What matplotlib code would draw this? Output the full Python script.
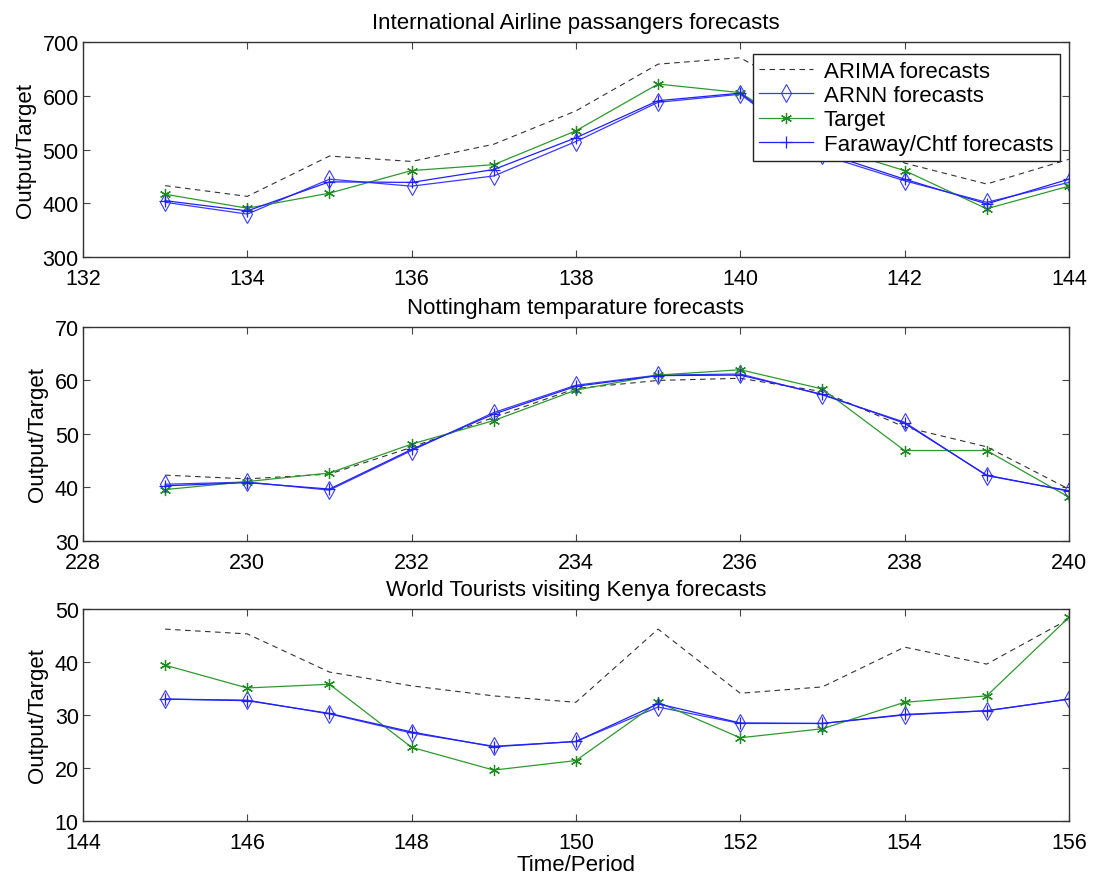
import numpy as np
import matplotlib
matplotlib.use("Agg")
import matplotlib.pyplot as plt

plt.rcParams['font.family'] = ['Liberation Sans', 'DejaVu Sans']

# Panel 1: International Airline passengers
t1 = list(range(133, 145))
arima1 = [433, 413, 488, 478, 510, 572, 659, 671, 585, 475, 436, 482]
arnn1 = [402, 380, 445, 432, 451, 515, 588, 603, 490, 442, 402, 439]
target1 = [417, 391, 419, 461, 472, 535, 622, 606, 508, 461, 390, 432]
faraway1 = [405, 386, 440, 439, 463, 522, 591, 605, 495, 445, 399, 445]

# Panel 2: Nottingham temperature
t2 = list(range(229, 241))
arima2 = [42.3, 41.6, 42.5, 47.5, 53.1, 58.5, 60.0, 60.4, 57.9, 51.3, 47.6, 39.7]
arnn2 = [40.6, 41.0, 39.5, 46.9, 54.0, 59.1, 61.0, 61.2, 57.3, 52.2, 42.2, 39.4]
target2 = [39.6, 41.1, 42.7, 48.1, 52.5, 58.2, 61.0, 62.0, 58.4, 46.9, 46.9, 38.2]
faraway2 = [40.3, 40.9, 39.7, 47.1, 53.7, 58.9, 60.9, 61.0, 57.4, 52.0, 42.3, 39.3]

# Panel 3: World Tourists visiting Kenya
t3 = list(range(145, 157))
arima3 = [46.2, 45.3, 38.1, 35.5, 33.6, 32.4, 46.2, 34.1, 35.3, 42.8, 39.6, 48.1]
arnn3 = [33.0, 32.8, 30.2, 26.6, 24.1, 25.0, 31.5, 28.4, 28.4, 30.0, 30.8, 33.0]
target3 = [39.4, 35.1, 35.8, 23.9, 19.6, 21.4, 32.4, 25.7, 27.4, 32.4, 33.6, 48.4]
faraway3 = [33.0, 32.7, 30.3, 26.8, 24.0, 25.0, 32.1, 28.5, 28.4, 30.1, 30.8, 33.0]

titles = ["International Airline passangers forecasts",
          "Nottingham temparature forecasts",
          "World Tourists visiting Kenya forecasts"]
xlims = [(132, 144), (228, 240), (144, 156)]
ylims = [(300, 700), (30, 70), (10, 50)]
ysteps = [100, 10, 10]

panels = [(t1, arima1, arnn1, target1, faraway1),
          (t2, arima2, arnn2, target2, faraway2),
          (t3, arima3, arnn3, target3, faraway3)]

fig = plt.figure(figsize=(10.93, 8.87), dpi=100)
rects = [[0.0759, 0.709, 0.902, 0.2424],
         [0.0759, 0.389, 0.902, 0.2413],
         [0.0759, 0.0733, 0.902, 0.239]]

asterisk = (6, 2, 0)
for i, (t, ar, nn, tg, fw) in enumerate(panels):
    ax = fig.add_axes(rects[i])
    ax.plot(t, ar, color='#333333', linestyle=(0, (5, 4)), linewidth=0.8, label='ARIMA forecasts')
    ax.plot(t, nn, color='#3a3aff', linewidth=0.9, marker='d', markersize=9,
            markerfacecolor='none', markeredgewidth=0.8, label='ARNN forecasts')
    ax.plot(t, tg, color='#2e9a2e', linewidth=0.9, marker=asterisk, markersize=8,
            markeredgewidth=0.9, markeredgecolor='#1f8a1f', label='Target')
    ax.plot(t, fw, color='#2020ff', linewidth=0.9, marker='+', markersize=8,
            markeredgewidth=0.9, label='Faraway/Chtf forecasts')
    ax.set_xlim(*xlims[i])
    ax.set_ylim(*ylims[i])
    ax.set_xticks(np.arange(xlims[i][0], xlims[i][1] + 1, 2))
    ax.set_yticks(np.arange(ylims[i][0], ylims[i][1] + 1, ysteps[i]))
    ax.tick_params(direction='in', top=True, right=True, length=5, width=0.8,
                   labelsize=15.5, color='#444444')
    ax.tick_params(axis='x', pad=8)
    ax.tick_params(axis='y', pad=3)
    for s in ax.spines.values():
        s.set_color('#333333')
        s.set_linewidth(1.0)
    ax.set_title(titles[i], fontsize=16, pad=10)
    ax.set_ylabel('Output/Target', fontsize=16, labelpad=5)
    if i == 0:
        ax.legend(loc='upper right', bbox_to_anchor=(0.991, 0.944), fontsize=16,
                  fancybox=False, edgecolor='#222222', framealpha=1, borderaxespad=0,
                  handlelength=2.4, handletextpad=0.5, labelspacing=0.15,
                  borderpad=0.3)
    if i == 2:
        ax.set_xlabel('Time/Period', fontsize=16, labelpad=1)

fig.savefig('out.png', dpi=100)
